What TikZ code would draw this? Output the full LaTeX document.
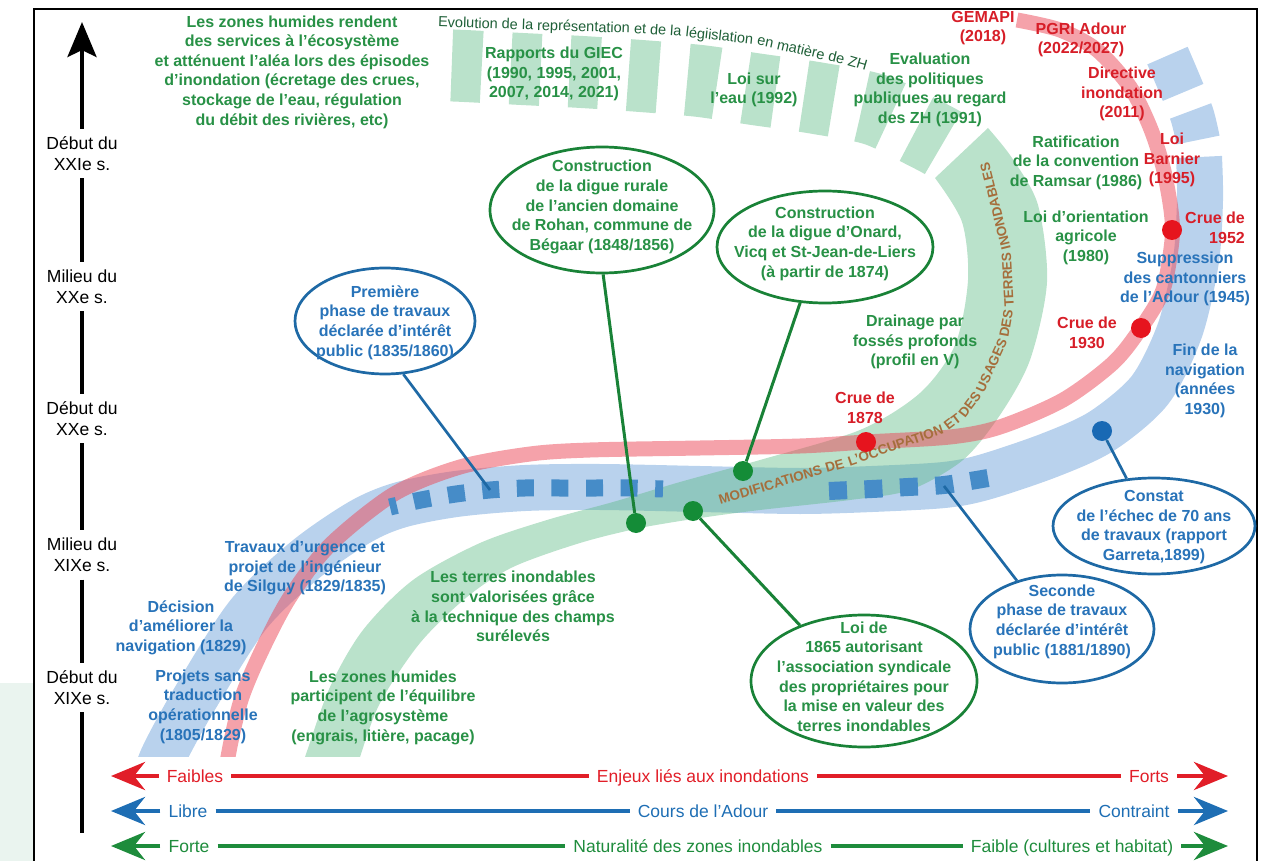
\documentclass[tikz,border=0pt]{standalone}
\usepackage{fontspec}
\setmainfont{Liberation Sans}
\usetikzlibrary{arrows.meta,shapes.geometric}
\definecolor{tgreen}{RGB}{40,145,70}
\definecolor{tblue}{RGB}{40,115,185}
\definecolor{tred}{RGB}{215,30,40}
\definecolor{tevo}{RGB}{30,95,55}
\definecolor{tbrown}{RGB}{165,110,60}
\definecolor{egreen}{RGB}{25,130,55}
\definecolor{eblue}{RGB}{30,105,165}
\definecolor{bandblue}{RGB}{100,155,215}
\definecolor{bandgreen}{RGB}{90,185,130}
\definecolor{bandred}{RGB}{235,70,85}
\definecolor{sqblue}{RGB}{70,140,200}
\definecolor{dgreen}{RGB}{20,140,55}
\definecolor{dred}{RGB}{230,20,30}
\definecolor{dblue}{RGB}{25,105,180}
\definecolor{ared}{RGB}{225,30,40}
\definecolor{ablue}{RGB}{30,110,180}
\definecolor{agreen}{RGB}{30,140,60}
\definecolor{palegreen}{RGB}{234,244,239}
\newcommand\lblfont{\fontsize{16}{19.6}\selectfont\bfseries}
\newcommand\axfont{\fontsize{17.5}{21}\selectfont}
\tikzset{
  bigtip/.tip={Stealth[length=34pt,width=28pt,inset=11pt]},
  axtip/.tip={Stealth[length=35pt,width=29pt,inset=7pt]},
  labG/.style={font=\lblfont, align=center, inner sep=0pt, text=tgreen},
  labB/.style={font=\lblfont, align=center, inner sep=0pt, text=tblue},
  labR/.style={font=\lblfont, align=center, inner sep=0pt, text=tred},
  ellG/.style={ellipse, draw=egreen, line width=2.7pt, fill=white, inner sep=0pt},
  ellB/.style={ellipse, draw=eblue, line width=2.7pt, fill=white, inner sep=0pt},
  dotnode/.style={circle, inner sep=0pt, minimum size=20pt},
  leadG/.style={draw=egreen, line width=3pt},
  leadB/.style={draw=eblue, line width=2.7pt},
  axlbl/.style={font=\axfont, align=center, inner xsep=0pt, inner ysep=7.5pt},
  axline/.style={line width=4.5pt, draw=black},
  scl/.style={font=\axfont, inner ysep=0pt, inner xsep=8pt, text height=12.6pt, text depth=0pt},
  arrline/.style={line width=4.5pt},
  brw/.style={font=\fontsize{13.5}{13.5}\selectfont\bfseries, text=tbrown, anchor=base, inner sep=0pt},
  evw/.style={font=\fontsize{14.5}{14.5}\selectfont, text=tevo, anchor=base, inner sep=0pt},
}
\begin{document}
\begin{tikzpicture}[x=1pt,y=-1pt]
\useasboundingbox (0,0) rectangle (1267,861);
\fill[palegreen] (0,683) rectangle (32.7,861);
\draw[line width=2.5pt] (34,9) rectangle (1257,880);

% ---------- bands ----------
\begin{scope}
\clip (35,10) rectangle (1256,756);
\draw[bandblue, opacity=0.45, line width=46pt] plot[smooth] coordinates {(152,790) (163,757) (194,700) (248,615) (305,560) (360,522) (400,505) (456,494) (525,488) (600,487) (700,489) (800,491) (872,489) (944,485) (985,477) (1050,455) (1102,431) (1150,390) (1180,330) (1196,260) (1200,200) (1199,157)};
\draw[bandblue, opacity=0.45, line width=44pt, dash pattern=on 30pt off 20pt on 40pt off 200pt] plot[smooth] coordinates {(1198,140) (1192,115) (1180,85) (1165,50) (1155,30)};
\fill[bandgreen, opacity=0.42] plot[smooth] coordinates {(300,770) (305,757) (330,687) (363,630) (413,580) (480,543) (547,520) (613,502) (680,482) (760,460) (860,430) (920,393) (955,345) (968,280) (962,222) (935,178)} -- plot[smooth] coordinates {(988,128) (1012,158) (1038,205) (1047,282) (1030,360) (1000,415) (963,460) (910,490) (850,500) (760,510) (700,518) (640,528) (580,543) (513,567) (467,597) (420,643) (380,703) (360,757) (357,770)} -- cycle;
\draw[bandgreen, opacity=0.42, line width=72pt, dash pattern=on 30pt off 29pt] plot[smooth] coordinates {(943,143) (928,135) (876,110) (816,98) (754,89) (700,81) (641,76) (582,72) (522,69) (465,66) (440,65)};
\draw[bandred, opacity=0.5, line width=15pt] plot[smooth] coordinates {(225,790) (228,757) (241,700) (262,650) (290,597) (330,545) (394,494) (460,467) (530,454) (590,450) (700,448) (800,446) (866,442) (950,437) (1000,427) (1063,400) (1113,363) (1141,328) (1163,290) (1172,240) (1171,210) (1163,167) (1150,127) (1130,87) (1097,50) (1060,30) (1017,20)};
\end{scope}

% ---------- blue squares ----------
\draw[sqblue, line width=17pt, dash pattern=on 17pt off 17.6pt, dash phase=10pt] plot[smooth] coordinates {(390,507) (421,500) (456,494) (490,490) (525,488) (560,488) (595,488) (630,488) (663,489)};
\draw[sqblue, line width=18pt, dash pattern=on 18pt off 17.5pt] plot[smooth] coordinates {(829,491) (872,489) (908,487) (944,485) (988,478)};
\coordinate (sqA) at (490,490);
\coordinate (sqB) at (944,486);

% ---------- curved texts (word by word) ----------
\node[brw, rotate=16.7] (m1) at (771.7,489.4) {MODIFICATIONS};
\node[brw, rotate=16] (m2) at (836,470.3) {DE};
\node[brw, rotate=19.2] (m3) at (897,449.9) {L’OCCUPATION};
\node[brw, rotate=37.2] (m4) at (955.2,425.5) {ET};
\node[brw, rotate=52.8] (m5) at (973.4,407) {DES};
\node[brw, rotate=65.5] (m6) at (995.8,367.1) {USAGES};
\node[brw, rotate=80.1] (m7) at (1010.8,324) {DES};
\node[brw, rotate=92.9] (m8) at (1012.4,279.5) {TERRES};
\node[brw, rotate=104.1] (m9) at (999.9,205.2) {INONDABLES};

\node[evw, rotate=-1.8] (e1) at (533.9,30) {Evolution de la représentation};
\node[evw, rotate=-3.9] (e2) at (657.5,34.9) {et de la};
\node[evw, rotate=-6.2] (e3) at (719,40.5) {légiislation};
\node[evw, rotate=-11.9] (e4) at (764.5,46.6) {en};
\node[evw, rotate=-12.8] (e5) at (800,54.5) {matière};
\node[evw, rotate=-13.1] (e6) at (835.4,62.6) {de};
\node[evw, rotate=-16.2] (e7) at (856.5,68) {ZH};

% ---------- ellipses ----------
\node[ellB, minimum width=180pt, minimum height=106pt] (prem) at (385,321) {};
\node[ellG, minimum width=224pt, minimum height=126pt] (begaar) at (602,210) {};
\node[ellG, minimum width=216pt, minimum height=112pt] (onard) at (825,247) {};
\node[ellG, minimum width=226pt, minimum height=132pt] (loi) at (864,681) {};
\node[ellB, minimum width=202pt, minimum height=96pt] (constat) at (1154,526) {};
\node[ellB, minimum width=184pt, minimum height=108pt] (seconde) at (1062,629) {};

% ---------- dots ----------
\node[dotnode, fill=dgreen] (gd1) at (636,523) {};
\node[dotnode, fill=dgreen] (gd2) at (693,511) {};
\node[dotnode, fill=dgreen] (gd3) at (743,471) {};
\node[dotnode, fill=dred] (rd1) at (866,442) {};
\node[dotnode, fill=dred] (rd2) at (1141,328) {};
\node[dotnode, fill=dred] (rd3) at (1172,230) {};
\node[dotnode, fill=dblue] (bd) at (1102,431) {};

% ---------- leaders ----------
\draw[leadB] (prem.-71) -- (sqA);
\draw[leadG] (begaar.-89) -- (gd1);
\draw[leadG] (onard.-114) -- (gd3);
\draw[leadG] (gd2) -- (loi.139);
\draw[leadB] (constat.120) -- (bd);
\draw[leadB] (seconde.133) -- (sqB);

% ---------- ellipse texts ----------
\node[labB] (premT) at (385,322.5) {Première\\phase de travaux\\déclarée d’intérêt\\public (1835/1860)};
\node[labG] (begaarT) at (602,207) {Construction\\de la digue rurale\\de l’ancien domaine\\de Rohan, commune de\\Bégaar (1848/1856)};
\node[labG] (onardT) at (825,243.5) {Construction\\de la digue d’Onard,\\Vicq et St-Jean-de-Liers\\(à partir de 1874)};
\node[labG] (loiT) at (864,676.5) {Loi de\\1865 autorisant\\l’association syndicale\\des propriétaires pour\\la mise en valeur des\\terres inondables};
\node[labB] (constatT) at (1154,527) {Constat\\de l’échec de 70 ans\\de travaux (rapport\\Garreta,1899)};
\node[labB] (secondeT) at (1062,621.5) {Seconde\\phase de travaux\\déclarée d’intérêt\\public (1881/1890)};

% ---------- free labels ----------
\node[labG] (zhrendent) at (292,72) {Les zones humides rendent\\des services à l’écosystème\\et atténuent l’aléa lors des épisodes\\d’inondation (écretage des crues,\\stockage de l’eau, régulation\\du débit des rivières, etc)};
\node[labG] (giec) at (554,74) {Rapports du GIEC\\(1990, 1995, 2001,\\2007, 2014, 2021)};
\node[labG] (loieau) at (754,90) {Loi sur\\l’eau (1992)};
\node[labG] (evalzh) at (930,90) {Evaluation\\des politiques\\publiques au regard\\des ZH (1991)};
\node[labR] (gemapi) at (983,28) {GEMAPI\\(2018)};
\node[labR] (pgri) at (1081,40) {PGRI Adour\\(2022/2027)};
\node[labR] (directive) at (1122,94) {Directive\\inondation\\(2011)};
\node[labR] (barnier) at (1172,160) {Loi\\Barnier\\(1995)};
\node[labG] (ramsar) at (1076,162.5) {Ratification\\de la convention\\de Ramsar (1986)};
\node[labG] (loa) at (1086,237.5) {Loi d’orientation\\agricole\\(1980)};
\node[labR, align=right, anchor=east] (c1952) at (1245,228) {Crue de\\1952};
\node[labB] (suppr) at (1185,279) {Suppression\\des cantonniers\\de l’Adour (1945)};
\node[labR] (c1930) at (1087,333) {Crue de\\1930};
\node[labB] (finnav) at (1205,381) {Fin de la\\navigation\\(années\\1930)};
\node[labG] (drain) at (915,342) {Drainage par\\fossés profonds\\(profil en V)};
\node[labR] (c1878) at (865,408) {Crue de\\1878};
\node[labB] (travaux) at (305,568) {Travaux d’urgence et\\projet de l’ingénieur\\de Silguy (1829/1835)};
\node[labB] (decision) at (181,627.5) {Décision\\d’améliorer la\\navigation (1829)};
\node[labB] (projets) at (203,706.5) {Projets sans\\traduction\\opérationnelle\\(1805/1829)};
\node[labG] (zhpart) at (383,707.5) {Les zones humides\\participent de l’équilibre\\de l’agrosystème\\(engrais, litière, pacage)};
\node[labG] (terres) at (513,606.5) {Les terres inondables\\sont valorisées grâce\\à la technique des champs\\surélevés};

% ---------- time axis ----------
\node[axlbl] (ax1) at (82,153.5) {Début du\\XXIe s.};
\node[axlbl] (ax2) at (82,286.5) {Milieu du\\XXe s.};
\node[axlbl] (ax3) at (82,418.5) {Début du\\XXe s.};
\node[axlbl] (ax4) at (82,555) {Milieu du\\XIXe s.};
\node[axlbl] (ax5) at (82,687.5) {Début du\\XIXe s.};
\coordinate (axtop) at (82,22);
\coordinate (axbot) at (82,833);
\draw[axline, -axtip] (ax1) -- (axtop);
\draw[axline] (ax1) -- (ax2);
\draw[axline] (ax2) -- (ax3);
\draw[axline] (ax3) -- (ax4);
\draw[axline] (ax4) -- (ax5);
\draw[axline] (ax5) -- (axbot);

% ---------- bottom scales ----------
\node[scl, text=ared] (faibles) at (195,776) {Faibles};
\node[scl, text=ared] (enjeux) at (703,776) {Enjeux liés aux inondations};
\node[scl, text=ared] (forts) at (1149,776) {Forts};
\coordinate (rL) at (111,776);
\coordinate (rR) at (1228,776);
\draw[arrline, ared, -bigtip] (faibles) -- (rL);
\draw[arrline, ared] (faibles) -- (enjeux);
\draw[arrline, ared] (enjeux) -- (forts);
\draw[arrline, ared, -bigtip] (forts) -- (rR);

\node[scl, text=ablue] (libre) at (188,811) {Libre};
\node[scl, text=ablue] (cours) at (703,811) {Cours de l’Adour};
\node[scl, text=ablue] (contraint) at (1134,811) {Contraint};
\coordinate (bL) at (111,811);
\coordinate (bR) at (1228,811);
\draw[arrline, ablue, -bigtip] (libre) -- (bL);
\draw[arrline, ablue] (libre) -- (cours);
\draw[arrline, ablue] (cours) -- (contraint);
\draw[arrline, ablue, -bigtip] (contraint) -- (bR);

\node[scl, text=agreen] (forte) at (189,846) {Forte};
\node[scl, text=agreen] (natur) at (698,846) {Naturalité des zones inondables};
\node[scl, text=agreen] (faible) at (1072,846) {Faible (cultures et habitat)};
\coordinate (gL) at (111,846);
\coordinate (gR) at (1228,846);
\draw[arrline, agreen, -bigtip] (forte) -- (gL);
\draw[arrline, agreen] (forte) -- (natur);
\draw[arrline, agreen] (natur) -- (faible);
\draw[arrline, agreen, -bigtip] (faible) -- (gR);
\end{tikzpicture}
\end{document}
